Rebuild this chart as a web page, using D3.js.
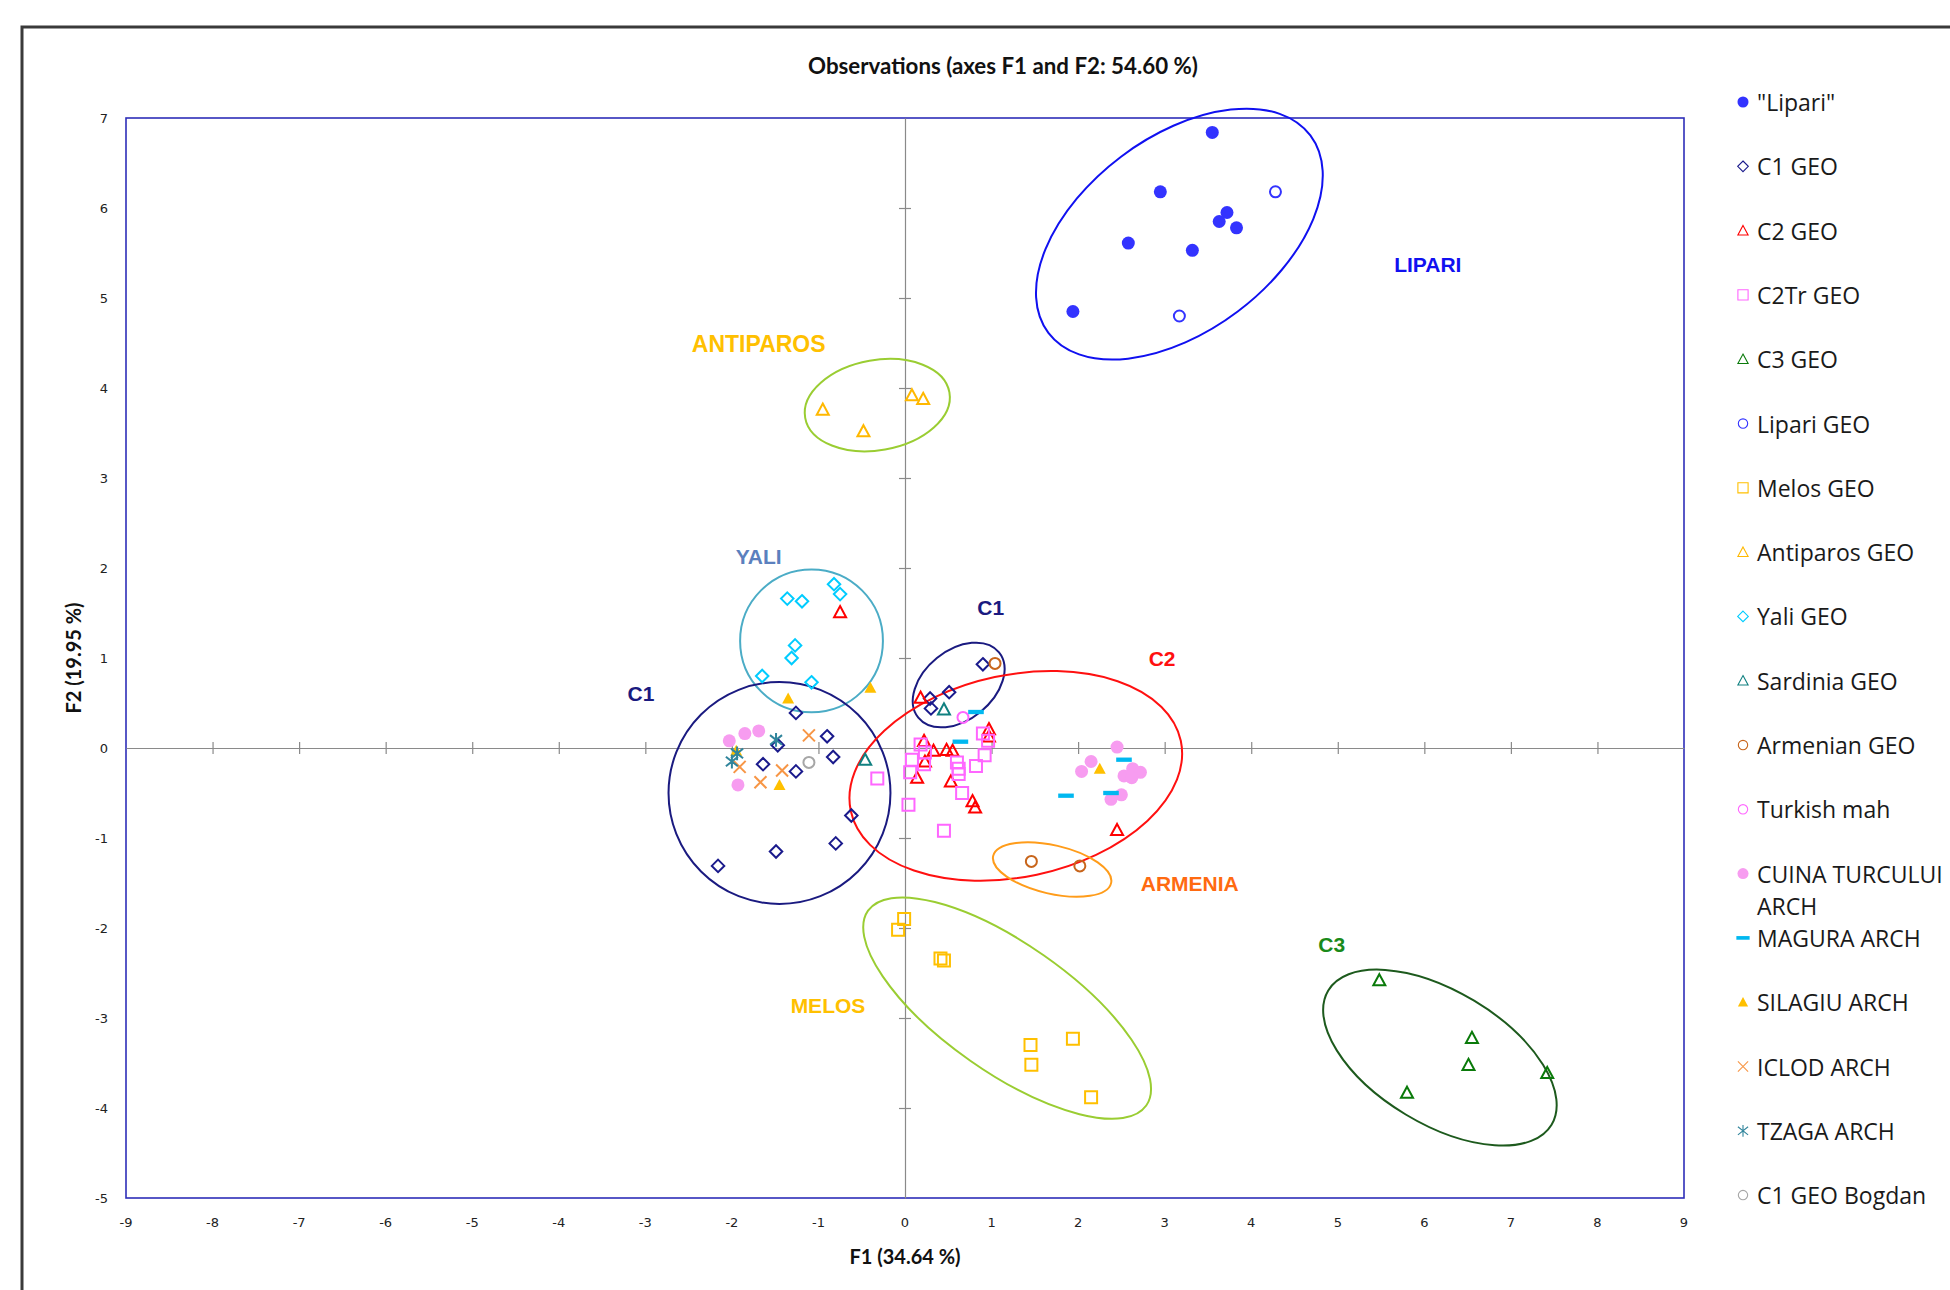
<!DOCTYPE html>
<html>
<head>
<meta charset="utf-8">
<script src="https://cdn.jsdelivr.net/npm/d3@7/dist/d3.min.js"></script>
<style>
  html, body { margin: 0; padding: 0; background: #fff; }
  svg { display: block; }
</style>
</head>
<body>
<svg id="chart" width="1950" height="1290"></svg>
<script>
// ---- Observations on the first two factorial axes (F1, F2) ----
const xTicks = [-9,-8,-7,-6,-5,-4,-3,-2,-1,0,1,2,3,4,5,6,7,8,9];
const yTicks = [-5,-4,-3,-2,-1,0,1,2,3,4,5,6,7];

const lipari = [[3.55,6.84],[2.95,6.18],[3.72,5.95],[3.63,5.85],[3.83,5.78],[2.58,5.61],[3.32,5.53],[1.94,4.85]];
const c1Geo = [[-1.26,0.39],[-0.90,0.13],[-1.47,0.03],[-0.83,-0.10],[-1.64,-0.18],[-1.26,-0.26],[-0.62,-0.75],[-0.80,-1.06],[-1.49,-1.15],[-2.16,-1.31],[0.90,0.93],[0.29,0.55],[0.51,0.62],[0.30,0.44]];
const c2Geo = [[-0.75,1.51],[0.18,0.56],[0.22,0.08],[0.33,-0.03],[0.48,-0.02],[0.55,-0.03],[0.97,0.21],[0.97,0.13],[0.14,-0.33],[0.23,-0.15],[0.53,-0.37],[0.78,-0.59],[0.81,-0.66],[2.45,-0.91]];
const c2TrGeo = [[0.18,0.04],[0.23,-0.05],[0.08,-0.13],[0.22,-0.18],[0.06,-0.27],[0.90,0.16],[0.96,0.08],[0.92,-0.08],[0.60,-0.16],[0.62,-0.23],[0.62,-0.29],[0.82,-0.20],[0.66,-0.50],[-0.32,-0.34],[0.04,-0.63],[0.45,-0.92]];
const c3Geo = [[5.48,-2.58],[6.55,-3.22],[6.51,-3.52],[7.42,-3.61],[5.80,-3.83]];
const lipariGeo = [[4.28,6.18],[3.17,4.80]];
const melosGeo = [[-0.01,-1.90],[-0.08,-2.02],[0.41,-2.34],[0.45,-2.36],[1.45,-3.30],[1.94,-3.23],[1.46,-3.52],[2.15,-3.88]];
const antiparosGeo = [[-0.95,3.76],[-0.48,3.52],[0.08,3.92],[0.21,3.88]];
const yaliGeo = [[-0.82,1.82],[-0.75,1.71],[-1.36,1.66],[-1.19,1.63],[-1.27,1.14],[-1.31,1.00],[-1.65,0.80],[-1.08,0.73]];
const sardiniaGeo = [[0.45,0.43],[-0.46,-0.13]];
const armenianGeo = [[1.04,0.94],[1.46,-1.26],[2.02,-1.31]];
const turkishMah = [[0.67,0.34]];
const cuinaTurcului = [[-2.03,0.08],[-1.85,0.16],[-1.69,0.19],[-1.93,-0.41],[2.45,0.01],[2.15,-0.15],[2.04,-0.26],[2.63,-0.23],[2.72,-0.27],[2.53,-0.31],[2.62,-0.33],[2.50,-0.52],[2.38,-0.57]];
const magura = [[0.82,0.40],[0.64,0.07],[2.53,-0.13],[1.86,-0.53],[2.38,-0.50]];
const silagiu = [[-1.35,0.55],[-0.40,0.67],[-1.45,-0.41],[-1.95,-0.03],[2.25,-0.23]];
const iclod = [[-1.11,0.14],[-1.42,-0.25],[-1.91,-0.21],[-1.67,-0.38]];
const tzaga = [[-1.49,0.09],[-1.94,-0.06],[-2.00,-0.15]];
const bogdan = [[-1.11,-0.16]];

const seriesNames = ['"Lipari"','C1 GEO','C2 GEO','C2Tr GEO','C3 GEO','Lipari GEO','Melos GEO','Antiparos GEO','Yali GEO','Sardinia GEO','Armenian GEO','Turkish mah','CUINA TURCULUI ARCH','MAGURA ARCH','SILAGIU ARCH','ICLOD ARCH','TZAGA ARCH','C1 GEO Bogdan'];

// group ellipses: centre (F1, F2), semi-axes in F1 units, tilt in degrees
const groupEllipses = [
  {cx:3.17, cy:5.71, a:1.895, b:1.12, tilt:37, color:'#1010F0'},
  {cx:-0.32, cy:3.81, a:0.846, b:0.521, tilt:10, color:'#9ACD32'},
  {cx:-1.08, cy:1.19, a:0.825, b:0.825, tilt:0, color:'#4BACC6'},
  {cx:0.62, cy:0.70, a:0.60, b:0.40, tilt:39, color:'#1A1A80'},
  {cx:-1.45, cy:-0.50, a:1.282, b:1.282, tilt:0, color:'#1A1A80'},
  {cx:1.28, cy:-0.31, a:1.949, b:1.167, tilt:12, color:'#FF1010'},
  {cx:1.70, cy:-1.35, a:0.699, b:0.28, tilt:-13, color:'#FF9C1A'},
  {cx:1.18, cy:-2.89, a:1.962, b:0.742, tilt:-35, color:'#9ACD32'},
  {cx:6.18, cy:-3.44, a:1.505, b:0.767, tilt:-31, color:'#1D5A1D'}
];

const groupLabels = [
  {text:'LIPARI', x:6.04, y:5.37, color:'#1010F0', size:21},
  {text:'ANTIPAROS', x:-1.69, y:4.49, color:'#FFC000', size:23},
  {text:'YALI', x:-1.69, y:2.13, color:'#5B80BE', size:21},
  {text:'C1', x:0.99, y:1.56, color:'#1A1A80', size:21},
  {text:'C1', x:-3.05, y:0.61, color:'#1A1A80', size:21},
  {text:'C2', x:2.97, y:1.00, color:'#FF1010', size:21},
  {text:'ARMENIA', x:3.29, y:-1.50, color:'#FF6A10', size:21},
  {text:'MELOS', x:-0.89, y:-2.86, color:'#FFC000', size:21},
  {text:'C3', x:4.93, y:-2.18, color:'#1A8A1A', size:21}
];

// ---- marker shapes ----
const shapeDiamond = {draw(c, s){ const r = Math.sqrt(s)/2; c.moveTo(0,-r); c.lineTo(r,0); c.lineTo(0,r); c.lineTo(-r,0); c.closePath(); }};
const shapeTriangle = {draw(c, s){ const r = Math.sqrt(s)/2; c.moveTo(0,-r); c.lineTo(r,r*0.85); c.lineTo(-r,r*0.85); c.closePath(); }};
const shapeSquare = {draw(c, s){ const r = Math.sqrt(s)/2; c.rect(-r,-r,2*r,2*r); }};
const shapeCircle = {draw(c, s){ const r = Math.sqrt(s)/2; c.moveTo(r,0); c.arc(0,0,r,0,2*Math.PI); }};
const shapeDash = {draw(c, s){ const r = Math.sqrt(s)/2; c.rect(-r*1.3,-r*0.36,r*2.6,r*0.72); }};
const shapeCross = {draw(c, s){ const r = Math.sqrt(s)/2; c.moveTo(-r,-r); c.lineTo(r,r); c.moveTo(r,-r); c.lineTo(-r,r); }};
const shapeStar = {draw(c, s){ const r = Math.sqrt(s)/2; c.moveTo(-r,-r*0.8); c.lineTo(r,r*0.8); c.moveTo(r,-r*0.8); c.lineTo(-r,r*0.8); c.moveTo(0,-r*1.15); c.lineTo(0,r*1.15); }};

const seriesData = [lipari,c1Geo,c2Geo,c2TrGeo,c3Geo,lipariGeo,melosGeo,antiparosGeo,yaliGeo,sardiniaGeo,armenianGeo,turkishMah,cuinaTurcului,magura,silagiu,iclod,tzaga,bogdan];
const seriesStyle = [
  {shape:shapeCircle, color:'#3333FF', fill:true, size:13},
  {shape:shapeDiamond, color:'#1A1A8C', fill:false, size:12.5},
  {shape:shapeTriangle, color:'#FF0000', fill:false, size:12},
  {shape:shapeSquare, color:'#FF66FF', fill:false, size:12},
  {shape:shapeTriangle, color:'#0A7A0A', fill:false, size:12},
  {shape:shapeCircle, color:'#3333FF', fill:false, size:11},
  {shape:shapeSquare, color:'#FFC000', fill:false, size:12},
  {shape:shapeTriangle, color:'#FFB800', fill:false, size:12},
  {shape:shapeDiamond, color:'#00CCFF', fill:false, size:12.5},
  {shape:shapeTriangle, color:'#108080', fill:false, size:12},
  {shape:shapeCircle, color:'#C8651B', fill:false, size:11},
  {shape:shapeCircle, color:'#FF66FF', fill:false, size:11},
  {shape:shapeCircle, color:'#F79CF0', fill:true, size:13},
  {shape:shapeDash, color:'#00B8F0', fill:true, size:12},
  {shape:shapeTriangle, color:'#FFC000', fill:true, size:12},
  {shape:shapeCross, color:'#F79646', fill:false, size:12},
  {shape:shapeStar, color:'#31859C', fill:false, size:12},
  {shape:shapeCircle, color:'#A6A6A6', fill:false, size:11}
];

const svg = d3.select('#chart');
const x = d3.scaleLinear().domain([-9, 9]).range([126, 1684]);
const y = d3.scaleLinear().domain([-5, 7]).range([1198, 118]);
const unitPx = x(1) - x(0);

// outer chart border
svg.append('rect').attr('x', 22).attr('y', 27).attr('width', 2000).attr('height', 2000)
  .attr('fill', 'none').attr('stroke', '#3a3a3a').attr('stroke-width', 3);

// title
svg.append('text').attr('x', 1003).attr('y', 65).attr('text-anchor', 'middle').attr('dominant-baseline', 'central')
  .style('font-family', 'Lato, "Open Sans", sans-serif').style('font-weight', 'bold').style('font-size', '22.3px')
  .attr('fill', '#111').text('Observations (axes F1 and F2: 54.60 %)');

// plot frame
svg.append('rect').attr('x', x(-9)).attr('y', y(7)).attr('width', x(9) - x(-9)).attr('height', y(-5) - y(7))
  .attr('fill', 'none').attr('stroke', '#2E2EB8').attr('stroke-width', 1.6);

// axes through the origin
const xAxis = d3.axisBottom(x).tickValues(xTicks).tickSizeInner(6).tickSizeOuter(0).tickFormat('');
const yAxis = d3.axisLeft(y).tickValues(yTicks).tickSizeInner(6).tickSizeOuter(0).tickFormat('');
function styleAxis(g) {
  g.select('.domain').attr('stroke', '#8a8a8a').attr('stroke-width', 1.2);
  g.selectAll('.tick line').attr('stroke', '#8a8a8a').attr('stroke-width', 1.2);
}
const gx = svg.append('g').attr('transform', `translate(0,${y(0)})`).call(xAxis).call(styleAxis);
gx.selectAll('.tick line').attr('y1', -6).attr('y2', 6);
gx.selectAll('.tick').filter(d => d === -9 || d === 9).remove();
const gy = svg.append('g').attr('transform', `translate(${x(0)},0)`).call(yAxis).call(styleAxis);
gy.selectAll('.tick line').attr('x1', -6).attr('x2', 6);
gy.selectAll('.tick').filter(d => d === -5 || d === 7).remove();

// tick labels along the frame
const tickFont = 'DejaVu Sans, Verdana, sans-serif';
svg.append('g').selectAll('text').data(xTicks).join('text')
  .attr('x', d => x(d)).attr('y', 1222).attr('text-anchor', 'middle').attr('dominant-baseline', 'central')
  .style('font-family', tickFont).style('font-size', '13px').attr('fill', '#222').text(d => d);
svg.append('g').selectAll('text').data(yTicks).join('text')
  .attr('x', 108).attr('y', d => y(d)).attr('text-anchor', 'end').attr('dominant-baseline', 'central')
  .style('font-family', tickFont).style('font-size', '13px').attr('fill', '#222').text(d => d);

// axis titles
svg.append('text').attr('x', x(0)).attr('y', 1256).attr('text-anchor', 'middle').attr('dominant-baseline', 'central')
  .style('font-family', 'Lato, sans-serif').style('font-weight', 'bold').style('font-size', '20px')
  .attr('fill', '#111').text('F1 (34.64 %)');
svg.append('text').attr('transform', `translate(73,${(y(7) + y(-5)) / 2}) rotate(-90)`)
  .attr('text-anchor', 'middle').attr('dominant-baseline', 'central')
  .style('font-family', 'Lato, sans-serif').style('font-weight', 'bold').style('font-size', '20px')
  .attr('fill', '#111').text('F2 (19.95 %)');

// group ellipses
svg.append('g').selectAll('ellipse').data(groupEllipses).join('ellipse')
  .attr('cx', 0).attr('cy', 0)
  .attr('rx', d => d.a * unitPx).attr('ry', d => d.b * unitPx)
  .attr('transform', d => `translate(${x(d.cx)},${y(d.cy)}) rotate(${-d.tilt})`)
  .attr('fill', 'none').attr('stroke', d => d.color).attr('stroke-width', 2);

// group labels
svg.append('g').selectAll('text').data(groupLabels).join('text')
  .attr('x', d => x(d.x)).attr('y', d => y(d.y)).attr('text-anchor', 'middle').attr('dominant-baseline', 'central')
  .style('font-family', '"Liberation Sans", Arial, sans-serif').style('font-weight', 'bold')
  .style('font-size', d => d.size + 'px')
  .attr('fill', d => d.color).text(d => d.text);

// observation markers
seriesData.forEach((data, i) => {
  const st = seriesStyle[i];
  const sym = d3.symbol().type(st.shape).size(st.size * st.size);
  const filled = st.fill;
  svg.append('g').selectAll('path').data(data).join('path')
    .attr('transform', d => `translate(${x(d[0])},${y(d[1])})`)
    .attr('d', sym)
    .attr('fill', filled ? st.color : 'none')
    .attr('stroke', filled ? 'none' : st.color)
    .attr('stroke-width', 2);
});

// legend
const legendTop = 102, legendStep = 64.3;
const legendFont = '"Open Sans", sans-serif';
const legend = svg.append('g');
seriesNames.forEach((name, i) => {
  const st = seriesStyle[i];
  const ly = legendTop + i * legendStep;
  const sym = d3.symbol().type(st.shape).size(Math.pow(st.size * 0.85, 2));
  legend.append('path').attr('transform', `translate(1743,${ly})`).attr('d', sym)
    .attr('fill', st.fill ? st.color : 'none')
    .attr('stroke', st.fill ? 'none' : st.color).attr('stroke-width', 1.1);
  const lines = name === 'CUINA TURCULUI ARCH' ? ['CUINA TURCULUI', 'ARCH'] : [name];
  lines.forEach((ln, k) => {
    legend.append('text').attr('x', 1757).attr('y', ly + k * 32).attr('dominant-baseline', 'central')
      .style('font-family', legendFont).style('font-size', '23px').attr('fill', '#1a1a1a').text(ln);
  });
});
</script>
</body>
</html>
